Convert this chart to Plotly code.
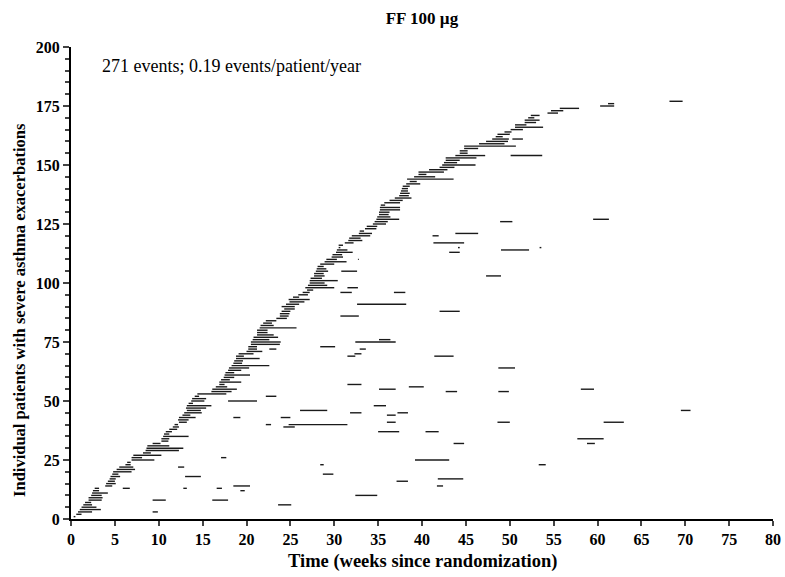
import plotly.graph_objects as go

# First exacerbation per patient (patient index, start week, end week)
first_patient = list(range(1, 178))
first_start = [0.3, 0.6, 0.8, 1.0, 1.2, 1.4, 1.6, 2.0, 2.0, 2.3,
               2.4, 2.5, 2.7, 3.9, 4.0, 4.2, 4.4, 4.5, 4.7, 4.8,
               5.2, 5.5, 6.2, 6.4, 6.9, 6.9, 7.1, 8.2, 8.5, 8.6,
               8.7, 9.3, 10.3, 10.3, 10.5, 10.6, 10.8, 11.2, 11.6, 11.8,
               12.3, 12.2, 12.3, 12.7, 12.9, 13.2, 13.1, 13.2, 13.4, 13.7,
               13.8, 14.1, 14.4, 16.0, 16.1, 16.5, 16.9, 16.9, 17.1, 17.4,
               17.5, 17.6, 17.9, 18.0, 18.3, 18.5, 18.6, 18.8, 18.8, 19.1,
               20.0, 20.2, 20.2, 20.5, 20.5, 20.7, 20.8, 21.2, 21.2, 21.2,
               21.5, 21.6, 21.9, 22.2, 23.4, 23.8, 23.8, 24.0, 24.3, 24.0,
               24.5, 24.9, 24.8, 25.3, 25.9, 26.4, 26.9, 26.7, 27.0, 27.2,
               27.2, 27.3, 27.7, 27.7, 27.9, 28.0, 28.1, 28.4, 28.9, 29.1,
               29.7, 29.8, 30.2, 30.3, 30.5, 30.5, 31.2, 31.6, 31.7, 32.0,
               32.8, 32.9, 33.5, 33.7, 34.4, 34.6, 34.8, 34.9, 35.1, 35.1,
               35.2, 35.2, 35.3, 35.7, 36.3, 36.9, 37.4, 37.5, 37.6, 37.7,
               37.8, 38.2, 38.6, 38.3, 39.1, 39.6, 39.6, 40.8, 42.0, 42.3,
               42.5, 42.7, 42.7, 43.8, 44.3, 44.3, 44.8, 44.8, 46.5, 47.3,
               48.0, 48.4, 48.6, 49.4, 50.1, 50.6, 50.6, 51.7, 51.7, 52.1,
               52.4, 54.3, 54.7, 55.7, 60.3, 61.2, 68.2]
first_end = [0.5, 1.2, 2.4, 3.4, 2.9, 2.4, 2.3, 3.5, 3.6, 3.5,
             4.2, 3.2, 3.2, 4.7, 5.1, 5.0, 5.1, 5.6, 5.4, 6.9,
             7.3, 7.1, 6.8, 6.8, 9.5, 8.1, 10.3, 9.1, 12.3, 12.8,
             11.2, 10.2, 11.1, 11.2, 13.4, 11.2, 11.5, 12.1, 12.3, 12.2,
             13.2, 13.4, 14.2, 13.6, 14.9, 14.8, 15.4, 16.0, 13.9, 15.2,
             15.4, 14.6, 17.7, 18.3, 18.9, 17.8, 17.5, 19.4, 18.1, 18.6,
             20.4, 18.6, 19.4, 20.3, 22.6, 19.5, 19.6, 21.5, 19.7, 20.8,
             21.8, 21.2, 21.2, 23.8, 23.9, 22.6, 23.6, 23.1, 22.4, 22.4,
             25.7, 23.1, 22.9, 23.4, 24.6, 24.8, 24.9, 25.0, 25.5, 25.5,
             26.0, 26.6, 27.2, 26.0, 27.0, 27.2, 27.6, 30.0, 29.2, 28.9,
             30.4, 28.6, 28.9, 28.8, 29.3, 29.1, 28.8, 30.0, 31.4, 30.3,
             31.0, 30.9, 32.1, 31.5, 30.7, 31.0, 32.2, 33.2, 33.0, 34.1,
             34.3, 33.4, 34.8, 34.9, 35.9, 36.1, 37.4, 36.4, 36.2, 36.3,
             37.5, 37.5, 35.8, 37.5, 37.8, 38.8, 38.5, 38.6, 38.4, 38.4,
             38.6, 39.8, 39.4, 43.6, 41.5, 40.5, 42.5, 42.9, 43.7, 46.1,
             44.0, 44.3, 46.2, 47.2, 45.2, 45.2, 46.4, 50.7, 49.4, 49.8,
             49.9, 49.2, 50.0, 50.2, 51.5, 53.8, 51.9, 53.0, 53.4, 52.8,
             53.4, 55.5, 56.1, 57.9, 61.9, 61.9, 69.7]

# Subsequent exacerbations (patient index, start week, end week)
later_patient = [3, 8, 8, 6, 13, 13, 13, 14, 12, 18,
                 22, 26, 50, 52, 46, 43, 43, 40, 40, 39,
                 73, 75, 72, 70, 69, 69, 64, 57, 55, 56,
                 54, 54, 55, 48, 45, 44, 45, 46, 41, 41,
                 41, 37, 37, 32, 34, 32, 25, 23, 19, 23,
                 16, 17, 14, 10, 154, 161, 126, 121, 120, 117,
                 115, 113, 114, 115, 103, 105, 110, 98, 96, 96,
                 91, 86, 88, 76, 127, 72]
later_start = [9.3, 9.3, 16.1, 23.6, 5.9, 12.8, 16.6, 18.5, 19.3, 13.0,
               12.2, 17.1, 17.9, 22.2, 26.1, 18.5, 23.9, 22.2, 24.8, 24.2,
               28.4, 32.4, 32.9, 32.3, 31.5, 41.4, 48.7, 31.5, 35.1, 38.5,
               42.7, 48.7, 58.1, 34.5, 31.8, 36.0, 37.2, 69.5, 36.0, 48.6,
               60.7, 35.0, 40.4, 43.6, 57.7, 58.8, 39.2, 28.4, 28.7, 53.3,
               37.1, 41.8, 41.7, 32.4, 50.1, 50.3, 48.9, 43.8, 41.2, 41.3,
               44.1, 43.1, 49.0, 53.4, 47.3, 30.8, 32.7, 31.5, 30.7, 36.8,
               32.6, 30.7, 42.0, 35.1, 59.5, 22.6]
later_end = [9.9, 10.8, 17.9, 25.1, 6.7, 13.2, 17.2, 20.4, 19.8, 14.8,
             12.9, 17.7, 21.2, 23.4, 29.2, 19.3, 25.0, 22.8, 31.5, 25.5,
             30.1, 37.0, 33.6, 33.1, 32.4, 43.6, 50.6, 33.1, 37.0, 40.2,
             44.0, 49.9, 59.6, 35.9, 33.1, 37.0, 38.4, 70.6, 37.0, 50.0,
             63.0, 37.4, 41.9, 44.8, 60.7, 59.7, 43.1, 28.8, 29.9, 54.1,
             38.4, 44.7, 42.4, 34.9, 53.7, 51.5, 50.3, 46.4, 41.9, 44.8,
             44.3, 44.3, 52.2, 53.6, 49.0, 32.6, 32.8, 32.7, 32.0, 38.1,
             38.2, 32.8, 44.3, 36.4, 61.3, 23.4]

x_ticks = list(range(0, 81, 5))
y_ticks = list(range(0, 201, 25))

xs, ys = [], []
for p, s, e in list(zip(first_patient, first_start, first_end)) + list(zip(later_patient, later_start, later_end)):
    xs += [s, e, None]
    ys += [p, p, None]

FONT = "Liberation Serif"
fig = go.Figure()
fig.add_trace(go.Scatter(x=xs, y=ys, mode="lines",
                         line=dict(color="#1a1a1a", width=1.4),
                         hoverinfo="skip", showlegend=False, cliponaxis=False))

fig.update_layout(
    width=785, height=577,
    margin=dict(l=71, r=12, t=47, b=58),
    paper_bgcolor="white", plot_bgcolor="white",
    font=dict(family=FONT, color="black"),
    title=dict(text="<b>FF 100 µg</b>", x=0.5375, xanchor="center",
               y=0.968, yanchor="middle", font=dict(size=17, family=FONT)),
    xaxis=dict(range=[0, 80], tickvals=x_ticks, ticks="outside", ticklen=5,
               tickwidth=2, showline=True, linewidth=2, linecolor="black",
               showgrid=False, zeroline=False, automargin=False,
               tickfont=dict(size=16, family=FONT, weight="bold")),
    yaxis=dict(range=[0, 200], tickvals=y_ticks, ticks="outside", ticklen=6,
               tickwidth=2, showline=True, linewidth=2, linecolor="black",
               showgrid=False, zeroline=False, automargin=False,
               minor=dict(dtick=5, ticks="outside", ticklen=4, tickwidth=1.5,
                          showgrid=False),
               tickfont=dict(size=16, family=FONT, weight="bold")),
    annotations=[
        dict(text="271 events; 0.19 events/patient/year",
             xref="x", yref="y", x=3.3, y=192, xanchor="left",
             yanchor="middle", showarrow=False,
             font=dict(size=18, family=FONT)),
        dict(text="<b>Time (weeks since randomization)</b>",
             xref="paper", yref="paper", x=0.5, y=-0.089,
             xanchor="center", yanchor="middle", showarrow=False,
             font=dict(size=18.5, family=FONT)),
        dict(text="<b>Individual patients with severe asthma exacerbations</b>",
             xref="paper", yref="paper", x=-0.0726, y=0.443, textangle=-90,
             xanchor="center", yanchor="middle", showarrow=False,
             font=dict(size=16.5, family=FONT)),
    ],
)

fig.write_html("out.html", config={"displayModeBar": False},
               post_script="document.body.style.margin='0px';document.body.style.overflow='hidden';")
